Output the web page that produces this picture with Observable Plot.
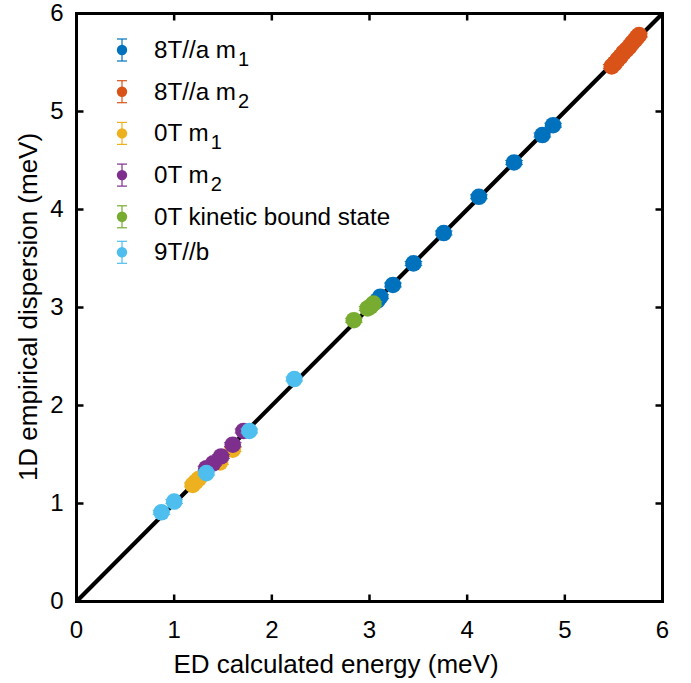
<!DOCTYPE html>
<html>
<head>
<meta charset="utf-8">
<script src="https://cdn.jsdelivr.net/npm/d3@7"></script>
<script src="https://cdn.jsdelivr.net/npm/@observablehq/plot@0.6"></script>
<style>
  html, body { margin: 0; padding: 0; background: white; }
  #chart { width: 691px; height: 683px; }
</style>
</head>
<body>
<div id="chart"></div>
<script>
// ---------- data ----------
const seriesNames = ["8T//a m_1", "8T//a m_2", "0T m_1", "0T m_2", "0T kinetic bound state", "9T//b"];
const seriesColors = ["#0072BD", "#D95319", "#EDB120", "#7E2F8E", "#77AC30", "#4DBEEE"];

const blueX = [3.08, 3.11, 3.24, 3.45, 3.76, 4.12, 4.48, 4.77, 4.88];
const blueY = [3.07, 3.11, 3.23, 3.45, 3.76, 4.13, 4.48, 4.76, 4.86];
const blueErr = [0.02, 0.02, 0.02, 0.02, 0.02, 0.02, 0.02, 0.02, 0.02];

const orangeX = [5.48, 5.51, 5.54, 5.57, 5.60, 5.63, 5.66, 5.69, 5.72, 5.74, 5.76];
const orangeY = [5.46, 5.49, 5.53, 5.56, 5.60, 5.63, 5.66, 5.70, 5.73, 5.76, 5.78];
const orangeErr = [0.02, 0.02, 0.02, 0.02, 0.02, 0.02, 0.02, 0.02, 0.02, 0.02, 0.02];

const yellowX = [1.19, 1.22, 1.25, 1.47, 1.60];
const yellowY = [1.19, 1.22, 1.25, 1.42, 1.55];
const yellowErr = [0.02, 0.02, 0.02, 0.02, 0.02];

const purpleX = [1.33, 1.40, 1.48, 1.60, 1.71];
const purpleY = [1.36, 1.41, 1.48, 1.60, 1.74];
const purpleErr = [0.02, 0.02, 0.02, 0.02, 0.02];

const greenX = [2.84, 2.98, 3.01, 3.04];
const greenY = [2.87, 2.99, 3.01, 3.04];
const greenErr = [0.02, 0.02, 0.02, 0.02];

const lightX = [0.87, 1.00, 1.33, 1.77, 2.23];
const lightY = [0.91, 1.02, 1.31, 1.74, 2.27];
const lightErr = [0.02, 0.02, 0.02, 0.02, 0.02];

const xTicks = [0, 1, 2, 3, 4, 5, 6];
const yTicks = [0, 1, 2, 3, 4, 5, 6];
const identityLine = [0, 6];

const xLabel = "ED calculated energy (meV)";
const yLabel = "1D empirical dispersion (meV)";

// ---------- build ----------
const seriesX = [blueX, orangeX, yellowX, purpleX, greenX, lightX];
const seriesY = [blueY, orangeY, yellowY, purpleY, greenY, lightY];
const seriesE = [blueErr, orangeErr, yellowErr, purpleErr, greenErr, lightErr];

const series = seriesNames.map((name, i) => ({
  name, color: seriesColors[i],
  data: seriesX[i].map((x, j) => ({x, y: seriesY[i][j], e: seriesE[i][j]}))
}));

const FONT = "'Liberation Sans', Arial, Helvetica, sans-serif";

const hCap = {draw(ctx) { ctx.moveTo(-8.8, 0); ctx.lineTo(8.8, 0); }};
const tickUp = {draw(ctx) { ctx.moveTo(0, 0); ctx.lineTo(0, -7); }};
const tickDown = {draw(ctx) { ctx.moveTo(0, 0); ctx.lineTo(0, 7); }};
const tickRight = {draw(ctx) { ctx.moveTo(0, 0); ctx.lineTo(7, 0); }};
const tickLeft = {draw(ctx) { ctx.moveTo(0, 0); ctx.lineTo(-7, 0); }};

const seriesMarks = series.flatMap(s => [
  Plot.ruleX(s.data, {x: "x", y1: d => d.y - d.e, y2: d => d.y + d.e, stroke: s.color, strokeWidth: 1}),
  Plot.dot(s.data, {x: "x", y: d => d.y - d.e, symbol: hCap, r: 1, stroke: s.color, fill: "none", strokeWidth: 1}),
  Plot.dot(s.data, {x: "x", y: d => d.y + d.e, symbol: hCap, r: 1, stroke: s.color, fill: "none", strokeWidth: 1}),
  Plot.dot(s.data, {x: "x", y: "y", r: 8.3, fill: s.color, stroke: null})
]);

const inner = (t, dom) => t.filter(v => v !== dom[0] && v !== dom[1]);

const plot = Plot.plot({
  width: 691,
  height: 683,
  marginLeft: 76,
  marginRight: 29,
  marginTop: 13,
  marginBottom: 82,
  x: {domain: [0, 6]},
  y: {domain: [0, 6]},
  style: {fontFamily: FONT, fontSize: "24px", color: "black", background: "white", overflow: "visible"},
  marks: [
    Plot.line(identityLine, {x: d => d, y: d => d, stroke: "black", strokeWidth: 4.2, clip: true}),
    ...seriesMarks,
    Plot.frame({stroke: "black", strokeWidth: 3}),
    Plot.dot(inner(xTicks, [0, 6]), {x: d => d, frameAnchor: "bottom", symbol: tickUp, r: 1, stroke: "black", strokeWidth: 2.5}),
    Plot.dot(inner(xTicks, [0, 6]), {x: d => d, frameAnchor: "top", symbol: tickDown, r: 1, stroke: "black", strokeWidth: 2.5}),
    Plot.dot(inner(yTicks, [0, 6]), {y: d => d, frameAnchor: "left", symbol: tickRight, r: 1, stroke: "black", strokeWidth: 2.5}),
    Plot.dot(inner(yTicks, [0, 6]), {y: d => d, frameAnchor: "right", symbol: tickLeft, r: 1, stroke: "black", strokeWidth: 2.5}),
    Plot.axisX({ticks: xTicks, tickSize: 0, tickPadding: 19, label: null, fontSize: 24, tickFormat: d3.format("d")}),
    Plot.axisY({ticks: yTicks, tickSize: 0, tickPadding: 13, label: null, fontSize: 24, tickFormat: d3.format("d")})
  ]
});

const svg = d3.select(plot);
svg.style("font-family", FONT);

// axis titles
svg.append("text")
  .attr("x", 336).attr("y", 673)
  .attr("text-anchor", "middle")
  .attr("font-size", 26).attr("fill", "black")
  .text(xLabel);
svg.append("text")
  .attr("transform", "translate(37,307) rotate(-90)")
  .attr("text-anchor", "middle")
  .attr("font-size", 26).attr("fill", "black")
  .text(yLabel);

// legend
const lg = svg.append("g").attr("text-anchor", "start");
let ly = 50;
series.forEach((s, i) => {
  const [main, sub] = s.name.split("_");
  const g = lg.append("g").attr("transform", `translate(122,${ly})`);
  g.append("line").attr("x1", 0).attr("x2", 0).attr("y1", -11).attr("y2", 11).attr("stroke", s.color).attr("stroke-width", 1.2);
  g.append("line").attr("x1", -5).attr("x2", 5).attr("y1", -11).attr("y2", -11).attr("stroke", s.color).attr("stroke-width", 1.2);
  g.append("line").attr("x1", -5).attr("x2", 5).attr("y1", 11).attr("y2", 11).attr("stroke", s.color).attr("stroke-width", 1.2);
  g.append("circle").attr("r", 5.2).attr("fill", s.color);
  const t = g.append("text").attr("x", 32).attr("y", 8).attr("text-anchor", "start").attr("font-size", 24.2).attr("fill", "black");
  t.append("tspan").text(main);
  if (sub) t.append("tspan").attr("dy", 8).attr("dx", 2).attr("font-size", 20).text(sub);
  ly += sub ? 41.7 : 35.5;
});

document.getElementById("chart").appendChild(plot);
</script>
</body>
</html>
